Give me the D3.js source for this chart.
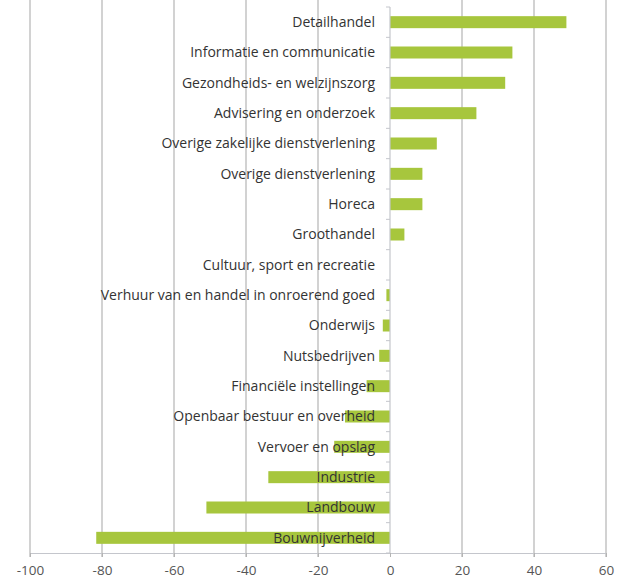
<!DOCTYPE html>
<html><head><meta charset="utf-8">
<script src="https://cdn.jsdelivr.net/npm/d3@7"></script>
<style>body{margin:0;background:#fff}svg{display:block}</style>
</head><body>
<script>
const categories = ["Detailhandel","Informatie en communicatie","Gezondheids- en welzijnszorg","Advisering en onderzoek","Overige zakelijke dienstverlening","Overige dienstverlening","Horeca","Groothandel","Cultuur, sport en recreatie","Verhuur van en handel in onroerend goed","Onderwijs","Nutsbedrijven","Financiële instellingen","Openbaar bestuur en overheid","Vervoer en opslag","Industrie","Landbouw","Bouwnijverheid"];
const values = [49, 34, 32, 24, 13, 9, 9, 4, 0, -1, -2, -3, -6.5, -12.5, -15.5, -33.8, -51, -81.6];
const xTicks = [-100,-80,-60,-40,-20,0,20,40,60];

const W = 626, H = 580;
const svg = d3.select("body").append("svg").attr("width", W).attr("height", H);
const x = d3.scaleLinear().domain([-100, 60]).range([30, 606]);
const y = d3.scaleBand().domain(categories).range([7, 553]).paddingInner(0.6).paddingOuter(0.3);

// gridlines
svg.append("g").selectAll("line").data(xTicks.filter(d => d !== 0)).join("line")
  .attr("x1", d => x(d)).attr("x2", d => x(d)).attr("y1", 0).attr("y2", 557)
  .attr("stroke", "#b4b4b4").attr("stroke-width", 1.2);

// bottom axis
const ax = svg.append("g").attr("transform", "translate(0,553)")
  .call(d3.axisBottom(x).tickValues(xTicks).tickFormat(d => String(d)).tickSize(4).tickSizeOuter(0).tickPadding(8));
ax.select(".domain").attr("stroke", "#c4c6cc").attr("stroke-width", 1.2);
ax.selectAll(".tick line").attr("stroke", "#b4b4b4");
ax.selectAll("text").attr("font-family", "Open Sans, sans-serif").attr("font-size", 13.5).attr("fill", "#555");

// bars
svg.append("g").selectAll("rect").data(categories).join("rect")
  .attr("x", (d, i) => x(Math.min(0, values[i])))
  .attr("width", (d, i) => Math.abs(x(values[i]) - x(0)))
  .attr("y", d => y(d) + y.bandwidth()/2 - 6)
  .attr("height", 12)
  .attr("fill", "#a7c63d");

// zero axis
svg.append("line").attr("x1", x(0)).attr("x2", x(0)).attr("y1", 7).attr("y2", 553)
  .attr("stroke", "#c4c6cc").attr("stroke-width", 1.2);
const bounds = d3.range(categories.length + 1).map(i => 7 + i * (546 / categories.length));
svg.append("g").selectAll("line").data(bounds).join("line")
  .attr("x1", x(0) - 4).attr("x2", x(0)).attr("y1", d => d).attr("y2", d => d)
  .attr("stroke", "#c4c6cc");

// labels
svg.append("g").selectAll("text").data(categories).join("text")
  .attr("x", x(0) - 15).attr("y", d => y(d) + y.bandwidth()/2)
  .attr("dy", "0.35em").attr("text-anchor", "end")
  .attr("font-family", "Open Sans, sans-serif").attr("font-size", 14).attr("font-weight", 500)
  .attr("fill", "#333").text(d => d);
</script>
</body></html>
